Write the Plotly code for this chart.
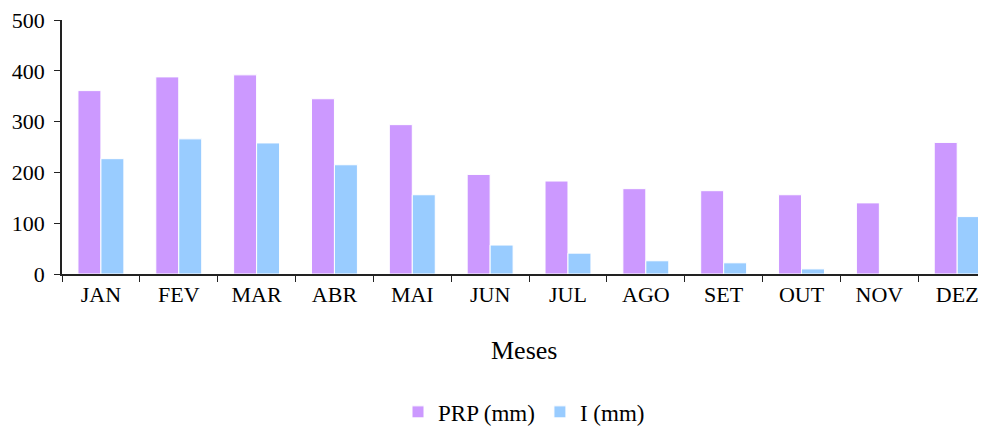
import plotly.graph_objects as go

meses = ["JAN", "FEV", "MAR", "ABR", "MAI", "JUN", "JUL", "AGO", "SET", "OUT", "NOV", "DEZ"]
prp_mm = [361, 388, 392, 345, 294, 196, 183, 168, 164, 156, 140, 259]
i_mm = [227, 266, 258, 215, 156, 57, 41, 26, 22, 10, 0, 113]

font_family = "Liberation Serif, Times New Roman, serif"

fig = go.Figure()
fig.add_trace(go.Bar(
    x=meses, y=prp_mm, name="PRP (mm)",
    marker=dict(color="#CC99FF", line=dict(color="white", width=1)),
))
fig.add_trace(go.Bar(
    x=meses, y=i_mm, name="I (mm)",
    marker=dict(color="#99CCFF", line=dict(color="white", width=1)),
))

fig.update_layout(
    width=978, height=420,
    margin=dict(l=54, r=0, t=12, b=154, autoexpand=False),
    plot_bgcolor="white", paper_bgcolor="white",
    barmode="group", bargap=0.41, bargroupgap=0.0,
    font=dict(family=font_family, size=22, color="black"),
    showlegend=True,
    legend=dict(orientation="h", x=0.5, xanchor="center", y=-0.543, yanchor="middle",
                font=dict(size=23), itemwidth=30, traceorder="normal"),
    xaxis=dict(
        range=[-0.5, 11.37], showline=True, linecolor="#222", linewidth=1.5,
        ticks="outside", tickson="boundaries", ticklen=6, tickcolor="#222",
        tickfont=dict(size=22), showgrid=False, ticklabeloverflow="allow",
    ),
    yaxis=dict(
        range=[0, 500], dtick=100, showline=True, linecolor="#222", linewidth=1.5,
        ticks="outside", ticklen=6, tickcolor="#222", showgrid=False, zeroline=False,
        tickfont=dict(size=22), ticklabeloverflow="allow", ticklabelstandoff=5,
    ),
    annotations=[dict(text="Meses", xref="paper", yref="paper", x=0.5, y=-0.303,
                      xanchor="center", yanchor="middle", showarrow=False,
                      font=dict(size=26))],
)

fig.write_html("out.html")
